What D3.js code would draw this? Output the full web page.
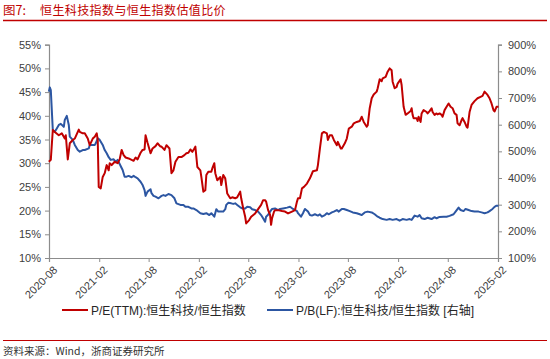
<!DOCTYPE html>
<html><head><meta charset="utf-8">
<script src="https://cdn.jsdelivr.net/npm/d3@7"></script>
<style>
html,body{margin:0;padding:0;background:#fff;}
svg{display:block;}
text{font-family:"Liberation Sans","Noto Sans CJK SC",sans-serif;}
</style></head>
<body>
<svg id="c" width="550" height="359"></svg>
<script>
// ---- Data ----
const titleLabel = "图7:";
const titleText = "恒生科技指数与恒生指数估值比价";
const sourceText = "资料来源：Wind，浙商证券研究所";
const seriesNames = ["P/E(TTM):恒生科技/恒生指数", "P/B(LF):恒生科技/恒生指数 [右轴]"];
const xTickLabels = ["2020-08","2021-02","2021-08","2022-02","2022-08","2023-02","2023-08","2024-02","2024-08","2025-02"];
const leftTicks = [10,15,20,25,30,35,40,45,50,55];
const rightTicks = [100,200,300,400,500,600,700,800,900];
// P/E ratio (%) : [decimal year, value]
const peSeries = [[2020.58,30.3],[2020.60,30.7],[2020.62,37.0],[2020.64,36.6],[2020.68,35.9],[2020.71,36.3],[2020.74,35.2],[2020.75,35.9],[2020.77,30.8],[2020.79,34.2],[2020.82,34.9],[2020.84,35.2],[2020.88,37.1],[2020.89,36.6],[2020.92,36.3],[2020.94,36.3],[2020.97,35.2],[2020.99,33.8],[2021.02,35.2],[2021.04,35.6],[2021.06,36.3],[2021.07,34.9],[2021.08,25.0],[2021.10,24.7],[2021.12,27.1],[2021.14,27.9],[2021.16,29.6],[2021.18,28.5],[2021.19,30.0],[2021.21,29.6],[2021.24,30.3],[2021.27,30.0],[2021.29,30.8],[2021.31,32.8],[2021.33,31.7],[2021.35,31.2],[2021.38,31.0],[2021.41,30.7],[2021.43,30.5],[2021.45,31.2],[2021.47,30.8],[2021.50,32.2],[2021.52,32.8],[2021.54,32.9],[2021.55,35.9],[2021.57,34.3],[2021.60,32.1],[2021.62,33.1],[2021.65,33.6],[2021.67,34.2],[2021.70,33.5],[2021.71,33.5],[2021.74,32.8],[2021.76,33.8],[2021.79,33.1],[2021.81,27.9],[2021.83,28.5],[2021.85,30.3],[2021.88,31.3],[2021.91,31.3],[2021.94,31.7],[2021.96,32.1],[2021.98,32.2],[2022.00,32.9],[2022.02,32.4],[2022.04,33.1],[2022.05,33.5],[2022.07,29.2],[2022.10,28.5],[2022.11,27.1],[2022.13,24.0],[2022.15,24.3],[2022.16,27.5],[2022.18,28.2],[2022.21,28.2],[2022.22,28.9],[2022.24,30.0],[2022.25,27.9],[2022.27,26.4],[2022.30,27.1],[2022.31,25.4],[2022.33,27.5],[2022.35,26.8],[2022.37,23.6],[2022.40,22.6],[2022.42,22.8],[2022.45,22.6],[2022.47,22.8],[2022.50,24.0],[2022.51,22.6],[2022.53,20.5],[2022.55,18.7],[2022.56,17.3],[2022.59,18.0],[2022.61,18.7],[2022.65,19.4],[2022.68,20.3],[2022.71,21.2],[2022.73,22.2],[2022.75,22.2],[2022.76,21.9],[2022.78,20.1],[2022.80,19.1],[2022.81,17.0],[2022.82,18.4],[2022.84,19.8],[2022.85,20.1],[2022.88,20.1],[2022.92,19.9],[2022.95,19.8],[2022.98,19.4],[2023.02,19.8],[2023.05,20.1],[2023.07,21.9],[2023.08,22.6],[2023.10,22.6],[2023.12,24.7],[2023.14,25.0],[2023.17,25.7],[2023.20,26.8],[2023.23,28.3],[2023.27,28.5],[2023.28,29.6],[2023.30,33.1],[2023.32,36.3],[2023.34,36.6],[2023.37,36.3],[2023.38,34.9],[2023.40,35.9],[2023.42,35.9],[2023.44,34.9],[2023.47,33.8],[2023.48,34.5],[2023.51,33.1],[2023.52,33.1],[2023.55,34.2],[2023.57,35.2],[2023.59,37.3],[2023.62,37.7],[2023.64,38.4],[2023.67,38.7],[2023.70,38.9],[2023.72,39.8],[2023.74,38.7],[2023.77,37.7],[2023.78,38.0],[2023.80,41.6],[2023.82,43.7],[2023.84,44.5],[2023.87,45.1],[2023.88,45.8],[2023.90,47.7],[2023.92,47.3],[2023.93,47.9],[2023.96,48.2],[2023.98,49.3],[2024.00,50.0],[2024.02,49.6],[2024.03,47.2],[2024.05,45.8],[2024.07,46.1],[2024.08,46.8],[2024.11,47.7],[2024.12,46.5],[2024.14,41.9],[2024.16,40.2],[2024.18,40.5],[2024.21,41.0],[2024.22,41.6],[2024.23,40.2],[2024.24,39.5],[2024.27,39.5],[2024.28,38.9],[2024.29,39.8],[2024.31,38.7],[2024.32,40.5],[2024.34,41.2],[2024.37,40.8],[2024.38,40.5],[2024.40,41.0],[2024.42,41.6],[2024.43,40.8],[2024.45,40.2],[2024.47,40.5],[2024.48,40.3],[2024.50,40.5],[2024.52,40.2],[2024.53,39.8],[2024.55,41.2],[2024.57,41.9],[2024.59,42.6],[2024.61,41.9],[2024.63,41.6],[2024.65,40.5],[2024.67,40.2],[2024.68,38.4],[2024.70,38.0],[2024.72,39.1],[2024.73,39.5],[2024.75,38.7],[2024.77,37.7],[2024.78,37.5],[2024.80,40.8],[2024.82,42.3],[2024.85,43.1],[2024.88,43.7],[2024.91,44.0],[2024.93,44.2],[2024.95,45.1],[2024.98,44.4],[2025.00,43.7],[2025.02,42.6],[2025.04,41.2],[2025.05,40.9],[2025.07,41.9],[2025.09,41.9]];
// P/B ratio (%) : [decimal year, value]  (right axis)
const pbSeries = [[2020.58,724],[2020.59,740],[2020.60,730],[2020.62,580],[2020.64,574],[2020.66,586],[2020.68,599],[2020.70,603],[2020.73,592],[2020.74,618],[2020.76,633],[2020.78,599],[2020.79,555],[2020.82,543],[2020.84,524],[2020.87,505],[2020.89,499],[2020.92,505],[2020.94,505],[2020.98,511],[2020.99,524],[2021.02,524],[2021.04,524],[2021.05,530],[2021.07,549],[2021.09,543],[2021.12,524],[2021.14,505],[2021.16,493],[2021.18,478],[2021.20,468],[2021.23,470],[2021.25,461],[2021.27,468],[2021.30,445],[2021.32,430],[2021.34,405],[2021.36,405],[2021.38,408],[2021.41,403],[2021.43,408],[2021.45,403],[2021.47,399],[2021.50,386],[2021.52,374],[2021.54,355],[2021.55,333],[2021.57,349],[2021.60,358],[2021.61,343],[2021.63,333],[2021.65,330],[2021.68,324],[2021.70,330],[2021.71,333],[2021.73,336],[2021.75,333],[2021.78,340],[2021.81,336],[2021.84,324],[2021.86,305],[2021.90,299],[2021.93,299],[2021.95,292],[2021.98,292],[2022.01,286],[2022.03,286],[2022.06,280],[2022.10,268],[2022.13,265],[2022.16,268],[2022.19,261],[2022.21,268],[2022.24,255],[2022.26,283],[2022.28,274],[2022.31,274],[2022.33,274],[2022.35,283],[2022.36,299],[2022.38,307],[2022.41,305],[2022.43,303],[2022.45,305],[2022.47,299],[2022.50,290],[2022.52,286],[2022.55,286],[2022.57,292],[2022.60,290],[2022.62,283],[2022.65,280],[2022.68,274],[2022.71,261],[2022.73,249],[2022.75,236],[2022.76,255],[2022.78,262],[2022.80,274],[2022.82,284],[2022.85,286],[2022.88,280],[2022.90,284],[2022.93,286],[2022.97,289],[2023.00,292],[2023.03,284],[2023.07,276],[2023.08,268],[2023.11,255],[2023.13,268],[2023.15,284],[2023.18,274],[2023.20,261],[2023.22,259],[2023.25,264],[2023.28,259],[2023.30,264],[2023.32,255],[2023.35,261],[2023.37,268],[2023.39,264],[2023.42,271],[2023.44,274],[2023.47,280],[2023.49,274],[2023.52,284],[2023.54,284],[2023.57,280],[2023.60,276],[2023.63,271],[2023.67,268],[2023.70,264],[2023.72,261],[2023.75,271],[2023.78,274],[2023.82,271],[2023.85,264],[2023.88,255],[2023.90,251],[2023.93,246],[2023.97,243],[2024.00,246],[2024.03,243],[2024.07,246],[2024.10,240],[2024.13,246],[2024.17,243],[2024.20,246],[2024.22,243],[2024.25,259],[2024.28,255],[2024.30,261],[2024.32,249],[2024.35,246],[2024.38,251],[2024.42,246],[2024.45,253],[2024.47,249],[2024.50,254],[2024.54,255],[2024.57,255],[2024.60,258],[2024.64,264],[2024.66,274],[2024.69,289],[2024.71,280],[2024.74,276],[2024.76,284],[2024.79,280],[2024.82,276],[2024.85,274],[2024.89,274],[2024.92,271],[2024.95,268],[2024.98,271],[2025.00,276],[2025.03,284],[2025.05,292],[2025.07,296],[2025.09,296]];

// ---- Helpers ----
const toDate = t => { const y = Math.floor(t); const s = new Date(y,0,1), e = new Date(y+1,0,1); return new Date(+s + (t-y)*(e-s)); };
const parseM = d3.timeParse("%Y-%m");
const xTicks = xTickLabels.map(parseM);

const RED = "#C00000", BLUE = "#2C56A2", AX = "#8c8c8c", TXT = "#404040";
const L = 49, R = 498, T = 44.7, B = 258;

const svg = d3.select("#c");

// Title
svg.append("text").attr("x",3).attr("y",15).attr("fill",RED).style("font-size","12.5px")
  .style("font-family","'Noto Sans CJK SC',sans-serif").text(titleLabel);
svg.append("text").attr("x",40).attr("y",15).attr("fill",RED).style("font-size","12px")
  .style("letter-spacing","0.4px").style("font-family","'Noto Sans CJK SC',sans-serif").text(titleText);
svg.append("line").attr("x1",3).attr("x2",547).attr("y1",20.5).attr("y2",20.5).attr("stroke",RED).attr("stroke-width",1.3);

// Scales
const x = d3.scaleTime().domain([xTicks[0], xTicks[xTicks.length-1]]).range([L,R]);
const yL = d3.scaleLinear().domain([10,55]).range([B,T]);
const yR = d3.scaleLinear().domain([100,900]).range([B,T]);

// Axes
const gL = svg.append("g").attr("transform",`translate(${L},0)`)
  .call(d3.axisLeft(yL).tickValues(leftTicks).tickFormat(d=>d+"%").tickSize(4).tickPadding(4));
const gR = svg.append("g").attr("transform",`translate(${R},0)`)
  .call(d3.axisRight(yR).tickValues(rightTicks).tickFormat(d=>d+"%").tickSize(4).tickPadding(6));
const gX = svg.append("g").attr("transform",`translate(0,${B})`)
  .call(d3.axisBottom(x).tickValues(xTicks).tickFormat(d3.timeFormat("%Y-%m")).tickSize(4).tickPadding(2));
[gL,gR,gX].forEach(g=>{
  g.select(".domain").attr("stroke",AX).attr("stroke-width",1.2);
  g.selectAll(".tick line").attr("stroke",AX);
  g.selectAll("text").attr("fill",TXT).style("font-size","11px").style("font-family","'Liberation Sans',sans-serif");
});
gX.selectAll("text").attr("text-anchor","end").attr("dy","0.3em").attr("dx","0")
  .attr("transform","translate(2,6) rotate(-45)");

// Lines
const linePE = d3.line().x(d=>x(toDate(d[0]))).y(d=>yL(d[1]));
const linePB = d3.line().x(d=>x(toDate(d[0]))).y(d=>yR(d[1]));
svg.append("path").datum(pbSeries).attr("d",linePB).attr("fill","none").attr("stroke",BLUE).attr("stroke-width",2).attr("stroke-linejoin","round");
svg.append("path").datum(peSeries).attr("d",linePE).attr("fill","none").attr("stroke",RED).attr("stroke-width",2).attr("stroke-linejoin","round");

// Legend
const legend = [{c:RED,x:62,name:seriesNames[0]},{c:BLUE,x:267,name:seriesNames[1]}];
legend.forEach(l=>{
  svg.append("line").attr("x1",l.x).attr("x2",l.x+26).attr("y1",310).attr("y2",310).attr("stroke",l.c).attr("stroke-width",2);
  svg.append("text").attr("x",l.x+29).attr("y",314.5).attr("fill","#262626").style("font-size","12px").text(l.name);
});

// Footer
svg.append("line").attr("x1",3).attr("x2",547).attr("y1",340.5).attr("y2",340.5).attr("stroke",RED).attr("stroke-width",1.2);
svg.append("text").attr("x",3).attr("y",355).attr("fill","#333").style("font-size","10.5px")
  .style("font-family","'Noto Sans CJK SC',sans-serif").text(sourceText);
</script>
</body></html>
